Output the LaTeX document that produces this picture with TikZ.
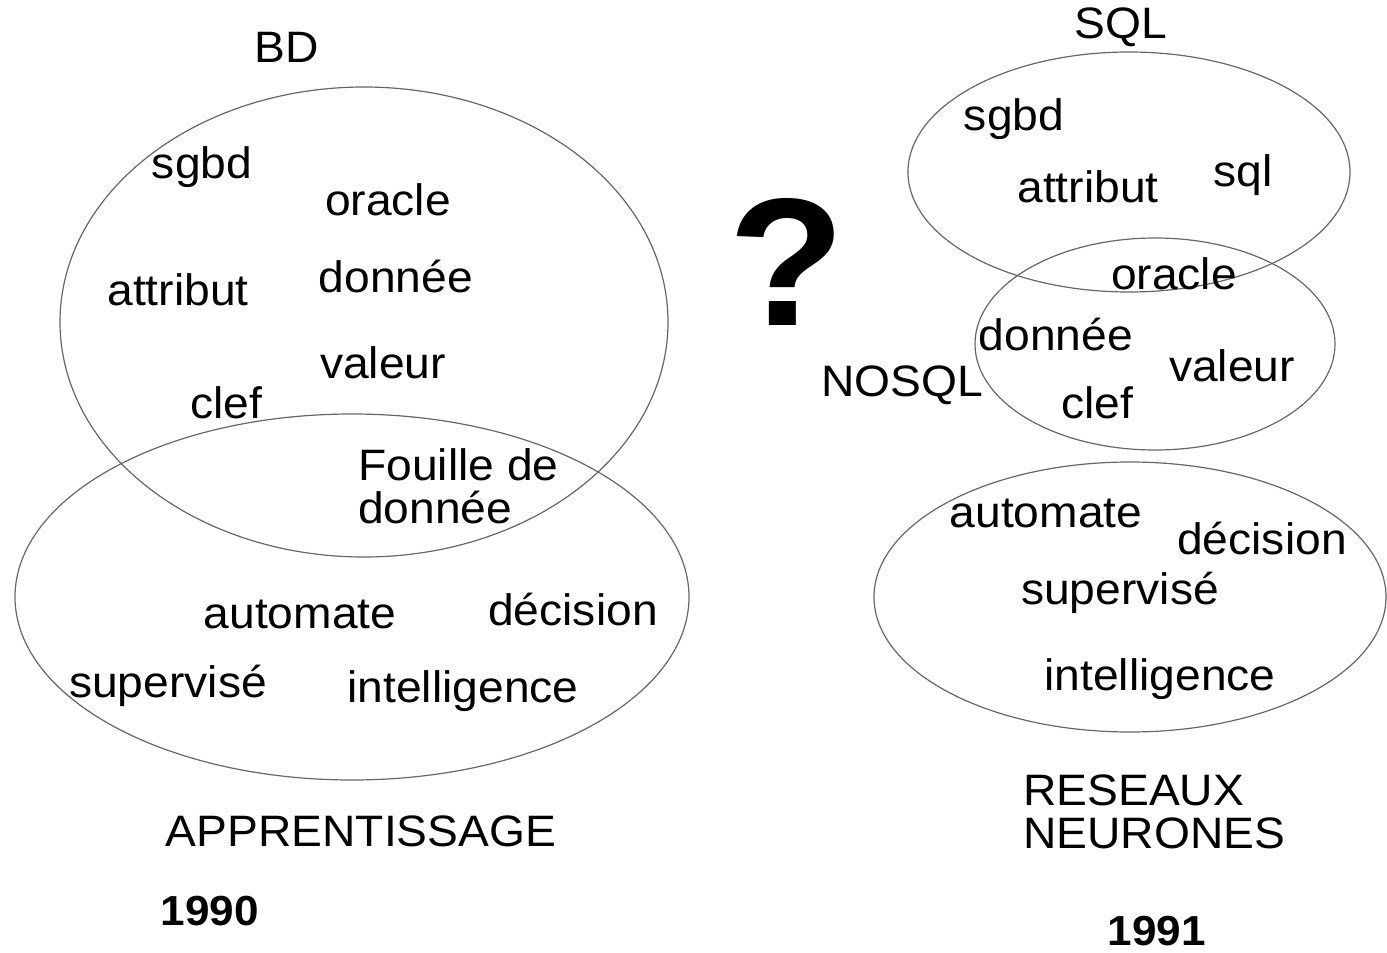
\documentclass[tikz,border=0pt]{standalone}
\usepackage{fontspec}
\setmainfont[FakeStretch=1.05]{Liberation Sans}
\begin{document}
\begin{tikzpicture}[x=1pt,y=-1pt,
  lbl/.style={anchor=base,inner sep=0pt,font=\fontsize{44}{50}\selectfont},
  lblw/.style={anchor=base west,inner sep=0pt,align=left,font=\fontsize{44}{43}\selectfont},
  yr/.style={anchor=base,inner sep=0pt,font=\fontsize{42}{46}\selectfont\bfseries},
  ell/.style={draw=black!60,line width=1.2pt}]
\useasboundingbox (0,0) rectangle (1387,953);
% left ellipses
\draw[ell] (364,322) ellipse [x radius=304,y radius=235];
\draw[ell] (352,597) ellipse [x radius=337,y radius=183];
% right ellipses
\draw[ell] (1129,172) ellipse [x radius=221,y radius=120];
\draw[ell] (1155,344) ellipse [x radius=180,y radius=106];
\draw[ell] (1130,597) ellipse [x radius=256,y radius=135];
% left texts
\node[lbl] (bd) at (287,62) {BD};
\node[lbl] (l1) at (202,178) {sgbd};
\node[lbl] (l2) at (388,215) {oracle};
\node[lbl] (l3) at (178,305) {attribut};
\node[lbl] (l4) at (396,292) {donnée};
\node[lbl] (l5) at (383,378) {valeur};
\node[lbl] (l6) at (226,418) {clef};
\node[lblw] (l7) at (358,523) {Fouille de\\donnée};
\node[lbl] (l8) at (300,628) {automate};
\node[lbl] (l9) at (573,625) {décision};
\node[lbl] (l10) at (168,697) {supervisé};
\node[lbl] (l11) at (463,702) {intelligence};
\node[lbl] (app) at (361,846) {APPRENTISSAGE};
\node[yr] (y1) at (210,925) {1990};
% question mark
\node[anchor=base,inner sep=0pt,font=\fontsize{182}{190}\selectfont\bfseries] (q) at (787,325) {?};
% right texts
\node[lbl] (sql) at (1121,38) {SQL};
\node[lbl] (r1) at (1014,130) {sgbd};
\node[lbl] (r2) at (1088,202) {attribut};
\node[lbl] (r3) at (1243,186) {sql};
\node[lbl] (r4) at (1174,289) {oracle};
\node[lbl] (r5) at (1056,350) {donnée};
\node[lbl] (r6) at (1232,381) {valeur};
\node[lbl] (nosql) at (902,396) {NOSQL};
\node[lbl] (r7) at (1097,418) {clef};
\node[lbl] (r8) at (1046,527) {automate};
\node[lbl] (r9) at (1262,554) {décision};
\node[lbl] (r10) at (1120,604) {supervisé};
\node[lbl] (r11) at (1160,690) {intelligence};
\node[lblw] (rn) at (1023,848) {RESEAUX\\NEURONES};
\node[yr] (y2) at (1157,945) {1991};
\end{tikzpicture}
\end{document}
